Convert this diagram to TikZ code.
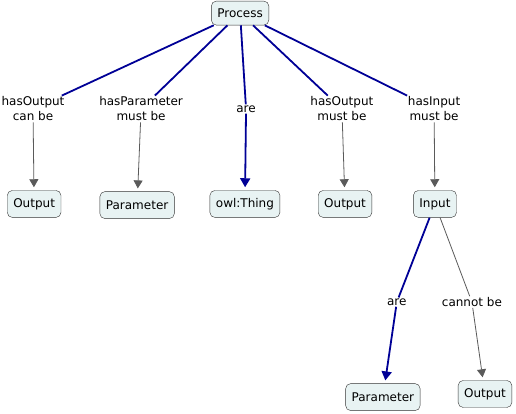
\documentclass[tikz,border=0pt]{standalone}
\usepackage{fontspec}
\setmainfont{DejaVu Sans}
\usetikzlibrary{arrows.meta}
\usepackage{xcolor}
\definecolor{conceptfill}{RGB}{232,243,243}
\definecolor{relblue}{RGB}{0,0,150}
\definecolor{relgray}{RGB}{90,90,90}

\begin{document}
\begin{tikzpicture}[
  concept/.style={draw=black!80, fill=conceptfill, rounded corners=5pt, minimum height=27pt, inner xsep=6pt, font=\fontsize{12}{15}\selectfont},
  phrase/.style={inner sep=1pt, align=center, font=\fontsize{12}{15}\selectfont},
  bluerel/.style={draw=relblue, line width=1.8pt},
  grayrel/.style={draw=relgray, line width=0.8pt},
  bluearr/.style={bluerel, -{Triangle[width=10pt,length=9pt]}, shorten >=3pt},
  grayarr/.style={grayrel, -{Triangle[width=9pt,length=8pt]}, shorten >=3pt}
]
  \useasboundingbox (0,0) rectangle (18.14,14.52);

  \node[concept, minimum height=24pt] (proc) at (8.44,14.06) {Process};
  \node[concept] (out1) at (1.20,7.35) {Output};
  \node[concept] (par1) at (4.82,7.31) {Parameter};
  \node[concept] (thing) at (8.61,7.35) {owl:Thing};
  \node[concept] (out2) at (12.13,7.35) {Output};
  \node[concept] (inp) at (15.29,7.35) {Input};
  \node[concept] (par2) at (13.46,0.56) {Parameter};
  \node[concept] (out3) at (17.05,0.67) {Output};

  \node[phrase] (l1) at (1.16,10.69) {hasOutput\\can be};
  \node[phrase] (l2) at (4.96,10.69) {hasParameter\\must be};
  \node[phrase] (l3) at (8.65,10.69) {are};
  \node[phrase] (l4) at (12.02,10.69) {hasOutput\\must be};
  \node[phrase] (l5) at (15.26,10.69) {hasInput\\must be};
  \node[phrase] (l6) at (13.95,3.90) {are};
  \node[phrase] (l7) at (16.59,3.90) {cannot be};

  \draw[bluerel] (proc) -- (l1);
  \draw[bluerel] (proc) -- (l2);
  \draw[bluerel] (proc) -- (l3);
  \draw[bluerel] (proc) -- (l4);
  \draw[bluerel] (proc) -- (l5);
  \draw[grayarr] (l1) -- (out1);
  \draw[grayarr] (l2) -- (par1);
  \draw[bluearr] (l3) -- (thing);
  \draw[grayarr] (l4) -- (out2);
  \draw[grayarr] (l5) -- (inp);

  \draw[bluerel] (inp) -- (l6);
  \draw[bluearr] (l6) -- (par2);
  \draw[grayrel] (inp) -- (l7);
  \draw[grayarr] (l7) -- (out3);
\end{tikzpicture}
\end{document}
